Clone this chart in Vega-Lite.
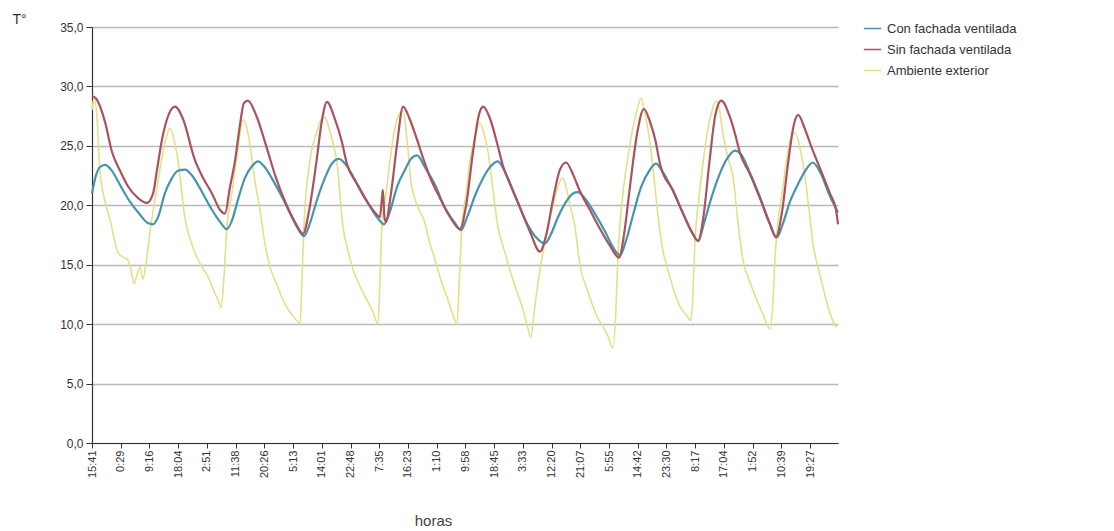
{
  "$schema": "https://vega.github.io/schema/vega-lite/v6.json",
  "autosize": {"type": "none"},
  "width": 746,
  "height": 416,
  "padding": {"left": 92, "top": 27, "right": 276, "bottom": 88},
  "background": "white",
  "config": {
    "view": {"stroke": null},
    "font": "Liberation Sans",
    "axis": {"labelFont": "Liberation Sans", "titleFont": "Liberation Sans"}
  },
  "datasets": {
    "sin": [
      {"h":0,"t":29.2},{"h":1.2,"t":29.0},{"h":4.0,"t":27.0},{"h":6.1,"t":24.5},{"h":8.6,"t":22.9},{"h":11.0,"t":21.6},{"h":14.1,"t":20.6},{"h":16.8,"t":20.2},{"h":18.7,"t":21.0},{"h":19.9,"t":23.0},{"h":21.4,"t":25.5},{"h":22.9,"t":27.2},{"h":25.4,"t":28.3},{"h":27.8,"t":27.3},{"h":31.5,"t":23.8},{"h":34.0,"t":22.3},{"h":36.7,"t":21.0},{"h":39.2,"t":19.6},{"h":40.7,"t":19.3},{"h":42.2,"t":21.5},{"h":43.8,"t":23.8},{"h":45.3,"t":26.8},{"h":46.5,"t":28.6},{"h":47.7,"t":28.8},{"h":50.2,"t":27.6},{"h":53.3,"t":25.0},{"h":56.3,"t":22.3},{"h":59.1,"t":20.3},{"h":62.1,"t":18.6},{"h":64.6,"t":17.6},{"h":66.4,"t":19.5},{"h":68.6,"t":23.5},{"h":70.4,"t":27.2},{"h":71.9,"t":28.7},{"h":74.4,"t":27.2},{"h":76.5,"t":25.3},{"h":78.0,"t":23.5},{"h":81.1,"t":21.8},{"h":84.2,"t":20.3},{"h":87.2,"t":19.2},{"h":88.1,"t":19.0},{"h":88.7,"t":20.5},{"h":89.0,"t":21.3},{"h":89.5,"t":19.0},{"h":89.9,"t":18.6},{"h":91.5,"t":21.0},{"h":93.3,"t":25.0},{"h":95.2,"t":28.3},{"h":97.3,"t":27.2},{"h":99.5,"t":25.5},{"h":101.3,"t":24.0},{"h":103.4,"t":22.4},{"h":106.5,"t":20.6},{"h":109.6,"t":19.0},{"h":112.6,"t":18.0},{"h":114.5,"t":20.0},{"h":116.6,"t":24.5},{"h":118.4,"t":27.6},{"h":119.7,"t":28.3},{"h":121.8,"t":27.3},{"h":123.9,"t":25.3},{"h":125.8,"t":23.3},{"h":127.9,"t":21.8},{"h":131.0,"t":19.8},{"h":134.0,"t":17.8},{"h":137.1,"t":16.1},{"h":139.0,"t":17.5},{"h":141.1,"t":20.5},{"h":143.2,"t":23.0},{"h":145.1,"t":23.6},{"h":147.2,"t":22.6},{"h":149.3,"t":21.2},{"h":152.4,"t":19.6},{"h":155.5,"t":18.0},{"h":158.5,"t":16.6},{"h":161.3,"t":15.6},{"h":162.8,"t":17.5},{"h":164.6,"t":21.5},{"h":166.8,"t":26.0},{"h":168.9,"t":28.1},{"h":170.8,"t":27.0},{"h":172.4,"t":25.5},{"h":173.9,"t":23.4},{"h":177.9,"t":21.2},{"h":180.9,"t":19.3},{"h":183.7,"t":17.7},{"h":185.5,"t":17.0},{"h":187.1,"t":19.0},{"h":188.9,"t":23.5},{"h":190.7,"t":27.5},{"h":192.6,"t":28.8},{"h":195.0,"t":27.6},{"h":196.8,"t":26.0},{"h":198.3,"t":24.4},{"h":201.4,"t":22.6},{"h":204.4,"t":20.6},{"h":207.5,"t":18.4},{"h":209.3,"t":17.3},{"h":211.2,"t":19.5},{"h":213.0,"t":23.5},{"h":214.8,"t":26.8},{"h":216.1,"t":27.6},{"h":218.2,"t":26.4},{"h":220.3,"t":24.8},{"h":222.8,"t":23.1},{"h":225.8,"t":21.0},{"h":227.7,"t":19.6},{"h":228.3,"t":18.4}
    ],
    "con": [
      {"h":0,"t":21.0},{"h":1.2,"t":22.5},{"h":2.4,"t":23.2},{"h":4.0,"t":23.4},{"h":6.1,"t":22.9},{"h":8.6,"t":21.7},{"h":11.6,"t":20.3},{"h":14.7,"t":19.2},{"h":17.1,"t":18.5},{"h":18.7,"t":18.4},{"h":20.2,"t":19.0},{"h":22.3,"t":21.0},{"h":24.5,"t":22.3},{"h":26.3,"t":22.9},{"h":28.5,"t":23.0},{"h":30.6,"t":22.5},{"h":33.1,"t":21.4},{"h":36.1,"t":19.9},{"h":39.2,"t":18.6},{"h":41.3,"t":18.0},{"h":42.8,"t":18.7},{"h":44.7,"t":20.5},{"h":46.8,"t":22.3},{"h":49.0,"t":23.3},{"h":50.8,"t":23.7},{"h":52.9,"t":23.2},{"h":56.0,"t":21.8},{"h":59.1,"t":20.2},{"h":62.1,"t":18.5},{"h":64.9,"t":17.4},{"h":66.7,"t":18.5},{"h":68.9,"t":20.5},{"h":71.3,"t":22.3},{"h":73.4,"t":23.5},{"h":75.6,"t":23.9},{"h":78.0,"t":23.3},{"h":81.1,"t":21.8},{"h":84.2,"t":20.3},{"h":87.2,"t":19.0},{"h":89.4,"t":18.4},{"h":91.2,"t":19.5},{"h":93.3,"t":21.5},{"h":95.8,"t":23.0},{"h":97.6,"t":23.9},{"h":99.5,"t":24.2},{"h":101.9,"t":23.2},{"h":105.0,"t":21.7},{"h":108.0,"t":19.8},{"h":111.1,"t":18.5},{"h":112.9,"t":17.9},{"h":114.8,"t":19.0},{"h":117.2,"t":20.8},{"h":119.7,"t":22.3},{"h":122.1,"t":23.3},{"h":124.2,"t":23.7},{"h":126.4,"t":22.8},{"h":129.5,"t":20.8},{"h":132.5,"t":18.8},{"h":135.6,"t":17.4},{"h":138.6,"t":16.8},{"h":140.5,"t":17.6},{"h":142.6,"t":19.0},{"h":145.1,"t":20.3},{"h":147.2,"t":21.0},{"h":148.7,"t":21.1},{"h":150.8,"t":20.6},{"h":153.9,"t":19.3},{"h":157.0,"t":17.8},{"h":159.4,"t":16.5},{"h":161.6,"t":15.8},{"h":163.4,"t":17.0},{"h":165.6,"t":19.2},{"h":168.0,"t":21.5},{"h":170.5,"t":22.9},{"h":172.6,"t":23.5},{"h":174.7,"t":22.8},{"h":177.8,"t":21.2},{"h":180.9,"t":19.3},{"h":183.6,"t":17.7},{"h":185.5,"t":17.0},{"h":187.3,"t":18.5},{"h":189.4,"t":20.5},{"h":191.9,"t":22.5},{"h":194.3,"t":23.9},{"h":196.8,"t":24.6},{"h":198.6,"t":24.3},{"h":201.4,"t":22.7},{"h":204.4,"t":20.7},{"h":207.5,"t":18.4},{"h":209.6,"t":17.3},{"h":211.5,"t":18.5},{"h":213.6,"t":20.3},{"h":216.1,"t":21.8},{"h":218.5,"t":23.0},{"h":220.6,"t":23.6},{"h":222.8,"t":22.8},{"h":225.8,"t":20.8},{"h":228.3,"t":19.4}
    ],
    "amb": [
      {"h":0,"t":28.0},{"h":0.6,"t":29.0},{"h":1.5,"t":27.5},{"h":2.4,"t":23.0},{"h":4.0,"t":20.3},{"h":5.5,"t":18.8},{"h":8.0,"t":16.0},{"h":9.8,"t":15.6},{"h":11.0,"t":15.4},{"h":11.9,"t":14.6},{"h":12.9,"t":13.4},{"h":13.8,"t":14.2},{"h":14.7,"t":14.8},{"h":15.6,"t":13.8},{"h":16.5,"t":15.0},{"h":17.7,"t":17.7},{"h":19.6,"t":21.0},{"h":21.4,"t":24.0},{"h":22.6,"t":25.6},{"h":23.9,"t":26.5},{"h":25.1,"t":25.5},{"h":26.3,"t":23.8},{"h":28.5,"t":18.8},{"h":30.0,"t":17.2},{"h":31.5,"t":16.0},{"h":33.7,"t":14.8},{"h":35.5,"t":14.0},{"h":37.3,"t":12.8},{"h":38.6,"t":12.0},{"h":39.5,"t":11.4},{"h":40.4,"t":14.0},{"h":41.3,"t":18.2},{"h":42.8,"t":21.0},{"h":44.7,"t":24.9},{"h":46.2,"t":27.2},{"h":47.1,"t":26.8},{"h":48.4,"t":25.0},{"h":49.9,"t":22.0},{"h":51.4,"t":19.6},{"h":52.9,"t":16.8},{"h":54.5,"t":14.8},{"h":56.6,"t":13.3},{"h":58.5,"t":12.0},{"h":60.6,"t":11.0},{"h":62.7,"t":10.3},{"h":63.7,"t":10.0},{"h":64.3,"t":14.0},{"h":64.9,"t":18.5},{"h":66.7,"t":23.8},{"h":68.6,"t":26.0},{"h":70.1,"t":27.2},{"h":71.3,"t":27.4},{"h":72.5,"t":26.5},{"h":73.8,"t":25.2},{"h":75.0,"t":23.5},{"h":76.8,"t":18.2},{"h":78.3,"t":16.2},{"h":79.9,"t":14.6},{"h":82.0,"t":13.2},{"h":84.2,"t":12.0},{"h":86.0,"t":11.0},{"h":87.5,"t":10.0},{"h":88.1,"t":13.5},{"h":88.7,"t":18.2},{"h":90.0,"t":21.0},{"h":91.2,"t":23.8},{"h":92.7,"t":26.5},{"h":94.3,"t":27.8},{"h":95.2,"t":28.0},{"h":96.4,"t":25.5},{"h":97.6,"t":22.0},{"h":99.1,"t":20.3},{"h":101.9,"t":18.5},{"h":103.4,"t":16.8},{"h":105.0,"t":15.4},{"h":106.8,"t":13.7},{"h":108.6,"t":12.3},{"h":110.2,"t":11.0},{"h":111.7,"t":10.0},{"h":112.3,"t":13.0},{"h":113.2,"t":18.2},{"h":114.5,"t":21.0},{"h":115.7,"t":23.8},{"h":117.2,"t":25.8},{"h":118.7,"t":26.9},{"h":120.0,"t":26.0},{"h":121.2,"t":24.5},{"h":122.4,"t":22.0},{"h":124.2,"t":18.2},{"h":126.4,"t":16.0},{"h":128.5,"t":14.0},{"h":130.1,"t":12.7},{"h":131.6,"t":11.5},{"h":133.1,"t":10.0},{"h":134.3,"t":8.9},{"h":135.3,"t":11.0},{"h":136.5,"t":13.5},{"h":138.0,"t":16.0},{"h":139.5,"t":18.2},{"h":141.1,"t":20.0},{"h":142.6,"t":21.6},{"h":144.1,"t":22.3},{"h":145.1,"t":21.5},{"h":146.3,"t":20.0},{"h":147.8,"t":18.2},{"h":149.3,"t":15.0},{"h":151.4,"t":13.0},{"h":153.3,"t":11.5},{"h":154.8,"t":10.5},{"h":156.4,"t":9.8},{"h":157.9,"t":9.0},{"h":159.4,"t":8.0},{"h":160.3,"t":11.0},{"h":160.9,"t":15.4},{"h":162.5,"t":21.0},{"h":164.0,"t":24.0},{"h":165.6,"t":26.6},{"h":167.1,"t":28.3},{"h":168.0,"t":29.0},{"h":169.2,"t":27.8},{"h":170.8,"t":25.2},{"h":172.1,"t":22.0},{"h":173.0,"t":19.6},{"h":174.5,"t":16.5},{"h":176.0,"t":14.8},{"h":177.9,"t":13.0},{"h":179.9,"t":11.5},{"h":181.8,"t":10.8},{"h":183.3,"t":10.3},{"h":183.9,"t":12.5},{"h":184.5,"t":16.8},{"h":185.7,"t":20.5},{"h":187.1,"t":23.8},{"h":188.5,"t":26.5},{"h":189.8,"t":28.0},{"h":191.0,"t":28.8},{"h":191.9,"t":28.2},{"h":193.1,"t":26.0},{"h":194.6,"t":24.0},{"h":196.2,"t":22.4},{"h":197.7,"t":18.5},{"h":199.2,"t":15.4},{"h":201.4,"t":13.5},{"h":203.5,"t":12.0},{"h":205.4,"t":10.8},{"h":207.5,"t":9.6},{"h":208.4,"t":12.0},{"h":209.0,"t":15.4},{"h":209.9,"t":18.5},{"h":211.2,"t":21.0},{"h":212.4,"t":23.5},{"h":213.6,"t":25.5},{"h":215.1,"t":26.1},{"h":216.7,"t":24.8},{"h":218.2,"t":22.4},{"h":219.7,"t":19.0},{"h":220.6,"t":16.8},{"h":222.2,"t":14.8},{"h":223.7,"t":13.1},{"h":225.2,"t":11.5},{"h":226.7,"t":10.3},{"h":227.7,"t":9.8},{"h":228.3,"t":10.0}
    ]
  },
  "encoding": {
    "x": {
      "field": "h", "type": "quantitative",
      "scale": {"domain": [0, 228.3], "nice": false, "zero": false},
      "axis": {
        "title": "horas",
        "values": [0, 8.791, 17.581, 26.372, 35.163, 43.953, 52.744, 61.535, 70.325, 79.116, 87.907, 96.697, 105.488, 114.279, 123.069, 131.86, 140.651, 149.441, 158.232, 167.023, 175.813, 184.604, 193.395, 202.185, 210.976, 219.767],
        "labelExpr": "['15:41','0:29','9:16','18:04','2:51','11:38','20:26','5:13','14:01','22:48','7:35','16:23','1:10','9:58','18:45','3:33','12:20','21:07','5:55','14:42','23:30','8:17','17:04','1:52','10:39','19:27'][round(datum.value/8.79067)]",
        "labelAngle": -90,
        "labelFontSize": 11,
        "labelColor": "#333333",
        "labelPadding": 2,
        "labelBound": false,
        "labelOverlap": false,
        "tickSize": 5,
        "tickColor": "#333333",
        "domainColor": "#333333",
        "domainWidth": 1.2,
        "grid": false,
        "titleFontSize": 15,
        "titleFontWeight": "normal",
        "titleColor": "#444444",
        "titleX": 341,
        "titleY": 77,
        "titleBaseline": "middle"
      }
    },
    "y": {
      "field": "t", "type": "quantitative",
      "scale": {"domain": [0, 35], "nice": false},
      "axis": {
        "title": "T°",
        "values": [0, 5, 10, 15, 20, 25, 30, 35],
        "labelExpr": "replace(format(datum.value, '.1f'), '.', ',')",
        "labelFontSize": 12,
        "labelColor": "#333333",
        "labelPadding": 3,
        "tickSize": 6,
        "tickColor": "#333333",
        "domainColor": "#333333",
        "domainWidth": 1.2,
        "grid": true,
        "gridColor": "#b9b9b9",
        "gridWidth": 1.5,
        "titleAngle": 0,
        "titleX": -80,
        "titleY": -8,
        "titleAlign": "left",
        "titleBaseline": "middle",
        "titleFontSize": 14,
        "titleFontWeight": "normal",
        "titleColor": "#333333"
      }
    },
    "color": {
      "field": "serie", "type": "nominal",
      "scale": {
        "domain": ["Con fachada ventilada", "Sin fachada ventilada", "Ambiente exterior"],
        "range": ["#4595ad", "#a8535d", "#e3e08a"]
      },
      "legend": {
        "title": null,
        "orient": "none",
        "legendX": 771,
        "legendY": -8,
        "symbolType": "stroke",
        "symbolSize": 300,
        "symbolStrokeWidth": 1.5,
        "labelFontSize": 13,
        "labelColor": "#333333",
        "labelOffset": 5,
        "rowPadding": 4
      }
    }
  },
  "layer": [
    {
      "data": {"name": "amb"},
      "transform": [{"calculate": "'Ambiente exterior'", "as": "serie"}],
      "mark": {"type": "line", "strokeWidth": 1.6, "interpolate": "monotone"}
    },
    {
      "data": {"name": "con"},
      "transform": [{"calculate": "'Con fachada ventilada'", "as": "serie"}],
      "mark": {"type": "line", "strokeWidth": 2.2, "interpolate": "monotone"}
    },
    {
      "data": {"name": "sin"},
      "transform": [{"calculate": "'Sin fachada ventilada'", "as": "serie"}],
      "mark": {"type": "line", "strokeWidth": 2.2, "interpolate": "monotone"}
    }
  ]
}
